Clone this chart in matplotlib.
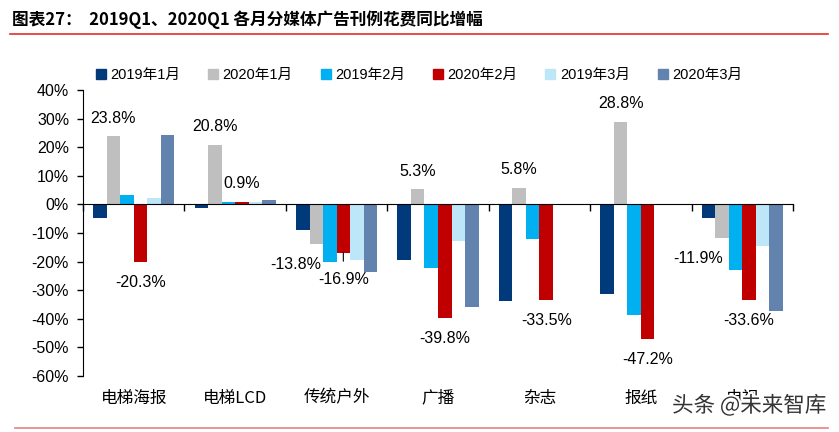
import numpy as np
import matplotlib
matplotlib.use('Agg')
import matplotlib.pyplot as plt
from matplotlib.patches import Patch
import matplotlib.patheffects as pe

plt.rcParams['font.family'] = ['Liberation Sans', 'Noto Sans CJK SC', 'DejaVu Sans']

# 数据
categories = ['电梯海报', '电梯LCD', '传统户外', '广播', '杂志', '报纸', '电视']
series_names = ['2019年1月', '2020年1月', '2019年2月', '2020年2月', '2019年3月', '2020年3月']
m2019_1 = [-4.7, -1.1, -9.0, -19.3, -33.7, -31.3, -4.8]
m2020_1 = [23.8, 20.8, -13.8, 5.3, 5.8, 28.8, -11.9]
m2019_2 = [3.2, 1.0, -20.2, -22.3, -12.2, -38.7, -22.9]
m2020_2 = [-20.3, 0.9, -16.9, -39.8, -33.5, -47.2, -33.6]
m2019_3 = [2.3, 0.8, -19.4, -12.9, np.nan, np.nan, -14.7]
m2020_3 = [24.4, 1.6, -23.7, -35.8, np.nan, np.nan, -37.2]
colors = ['#003A7A', '#BFBFBF', '#00B0F0', '#C00000', '#BDE7F8', '#6283AD']

all_series = [m2019_1, m2020_1, m2019_2, m2020_2, m2019_3, m2020_3]

fig = plt.figure(figsize=(8.39, 4.32), dpi=100)
ax = fig.add_axes([83/839, 1-376/432, (793-83)/839, (376-90)/432])

x = np.arange(len(categories)) + 0.5
w = 0.8 / 6
for k, (vals, c) in enumerate(zip(all_series, colors)):
    ax.bar(x + (k - 2.5) * w, vals, width=w, color=c, label=series_names[k], zorder=2)

ax.set_xlim(0, len(categories))
ax.set_ylim(-60, 40)
ax.set_yticks(np.arange(-60, 41, 10))
ax.set_yticklabels([f'{v}%' for v in range(-60, 41, 10)], fontsize=11.5)
ax.tick_params(axis='y', direction='out', length=4, width=1, pad=6)

# x轴放在0处，刻度在类别边界
ax.spines['bottom'].set_position(('data', 0))
ax.spines['top'].set_visible(False)
ax.spines['right'].set_visible(False)
ax.set_xticks(np.arange(0, len(categories) + 1))
ax.set_xticklabels([])
ax.tick_params(axis='x', direction='out', length=5, width=1)
for i, name in enumerate(categories):
    ax.text(x[i], -0.077, name, transform=ax.get_xaxis_transform(), ha='center', va='center',
            fontsize=12, family=['Noto Sans CJK SC'])

# 数据标签 (series index, category index, dx, dy in points)
labels = [
    (1, 0, 0, 13), (1, 1, 0, 13), (3, 1, 0, 13), (3, 0, 0, -14.5),
    (1, 2, -15, -14.5), (1, 3, 0, 13), (1, 4, 0, 13), (1, 5, 0, 13),
    (1, 6, -17, -14.5), (3, 3, 0, -14.5), (3, 4, 0, -14.5), (3, 5, 0, -14.5),
    (3, 6, 0, -14.5),
]
for s, i, dx, dy in labels:
    v = all_series[s][i]
    ax.annotate(f'{v:.1f}%', xy=(x[i] + (s - 2.5) * w, v), xytext=(dx, dy),
                textcoords='offset points', ha='center', va='center', fontsize=11.5)
v = m2020_2[2]
ax.annotate(f'{v:.1f}%', xy=(x[2] + 0.5 * w, v), xytext=(0, -19.5),
            textcoords='offset points', ha='center', va='center', fontsize=11.5,
            arrowprops=dict(arrowstyle='-', color='black', lw=0.8, shrinkA=6, shrinkB=0))

handles = [Patch(color=c) for c in colors]
fig.legend(handles, series_names, loc='center left', bbox_to_anchor=(90/839, 1-75/432),
           ncol=6, frameon=False, fontsize=10.5, handlelength=0.7, handleheight=0.7,
           handletextpad=0.3, columnspacing=1.9, borderaxespad=0)

fig.text(12/839, 1-20/432, '图表27：  2019Q1、2020Q1 各月分媒体广告刊例花费同比增幅',
         fontsize=12, fontweight='bold', va='center', family=['Noto Sans CJK SC'])
fig.add_artist(plt.Line2D([10/839, 828/839], [1-34/432, 1-34/432], color='#E0302A', lw=1.2))
fig.add_artist(plt.Line2D([15/839, 828/839], [1-428/432, 1-428/432], color='#E88080', lw=1.2))

fig.text(672/839, 1-406/432, '头条 @未来智库', fontsize=15.5, color='#333333',
         va='center', family=['Noto Sans CJK SC'],
         path_effects=[pe.withStroke(linewidth=3, foreground='white')])

fig.savefig('out.png', dpi=100)
